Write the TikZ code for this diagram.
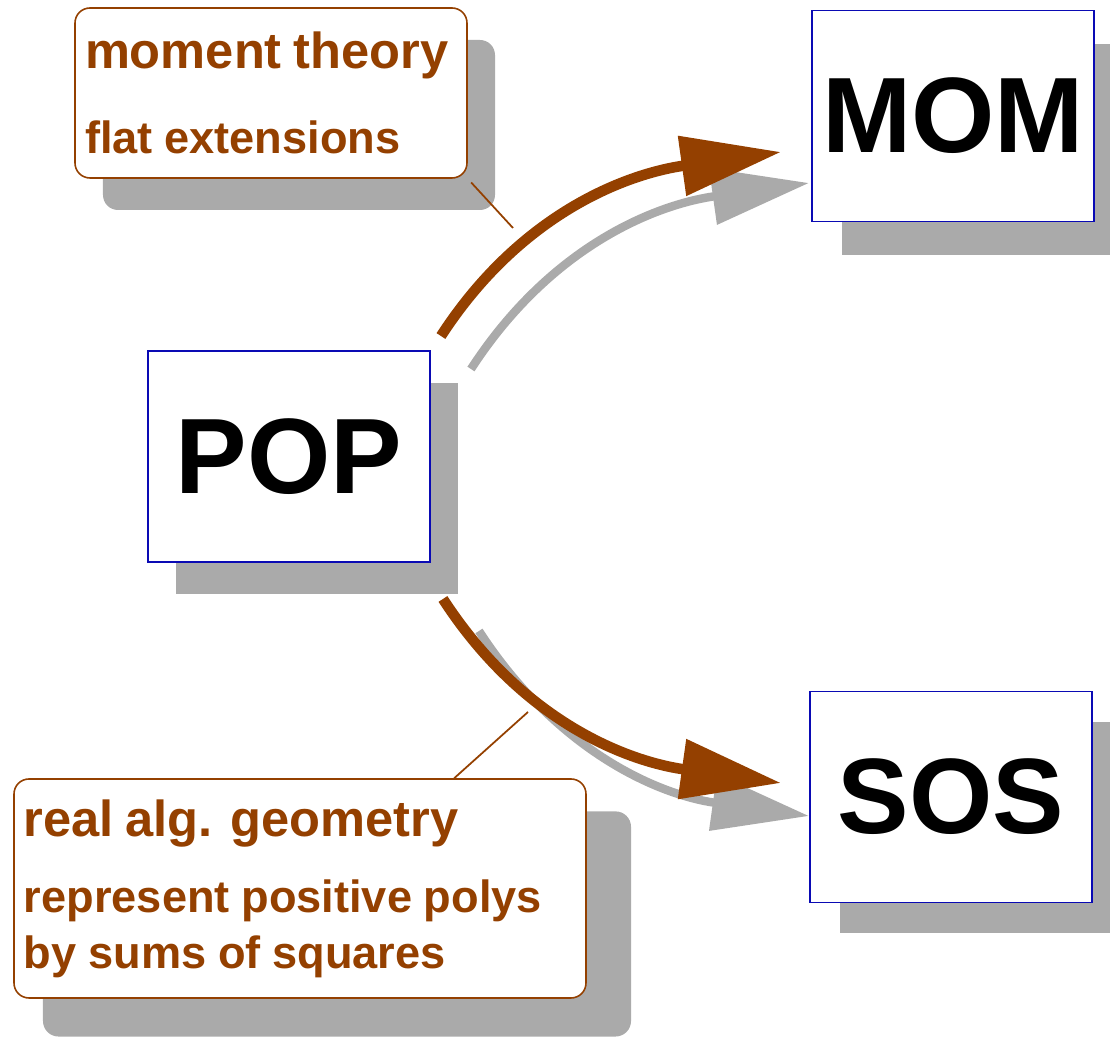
\documentclass[tikz,border=0pt]{standalone}
\usepackage{fontspec}
\setmainfont{Liberation Sans}
\usetikzlibrary{arrows.meta,shadows,calc}

\definecolor{popbrown}{RGB}{148,64,0}
\definecolor{popgray}{RGB}{170,170,170}
\definecolor{popblue}{RGB}{10,10,180}

\newcommand{\bigtxt}{\fontsize{14.4}{15.9}\selectfont}
\newcommand{\smalltxt}{\fontsize{12.85}{15.9}\selectfont}

\tikzset{
  shadowed/.style={drop shadow={shadow xshift=0.28cm, shadow yshift=-0.32cm, fill=popgray, opacity=1, #1}},
  shadowed/.default={},
  bigbox/.style={draw=popblue, line width=0.55pt, fill=white, minimum width=2.82cm, minimum height=2.11cm, inner sep=0pt, font=\fontsize{30.5}{32}\selectfont\bfseries},
  callout/.style={draw=popbrown, fill=white, rounded corners=0.15cm, line width=0.45pt, inner xsep=0.1cm, inner ysep=0pt, align=left, text=popbrown, font=\bfseries},
  brownarrow/.style={draw=popbrown, line width=3pt, -{Triangle[length=1cm,width=0.58cm]}},
  grayarrow/.style={draw=popgray, line width=2.4pt, -{Triangle[length=0.97cm,width=0.55cm]}},
  pin/.style={draw=popbrown, line width=0.5pt},
}

\begin{document}
\begin{tikzpicture}

  \useasboundingbox (0,0) rectangle (11.10,-10.37);

  % the three problems
  \node[bigbox, shadowed] (pop) at (2.89,-4.565) {POP};
  \node[bigbox, shadowed={shadow xshift=0.30cm, shadow yshift=-0.34cm}] (mom) at (9.53,-1.16) {MOM};
  \node[bigbox, shadowed={shadow xshift=0.30cm, shadow yshift=-0.31cm}] (sos) at (9.51,-7.97) {SOS};

  % callouts
  \node[callout, shadowed, minimum width=3.92cm, minimum height=1.70cm, text width=3.72cm] (mt) at (2.71,-0.93)
    {\bigtxt moment theory\par\vspace{8.3pt}\smalltxt flat extensions\par};
  \node[callout, shadowed={shadow scale=1.028, shadow xshift=0.36cm, shadow yshift=-0.345cm},
        minimum width=5.72cm, minimum height=2.19cm, text width=5.52cm] (rg) at (3.00,-8.885)
    {\bigtxt real alg. geometry\par\vspace{5.7pt}\smalltxt represent positive polys\\by sums of squares\par};

  \coordinate (mtpin) at (5.13,-2.28);
  \coordinate (rgpin) at (5.28,-7.12);

%  \draw (mtpin) node {mtpin};
%  \draw (rgpin) node {rgpin};

  \draw[pin, shorten >=0.05cm] (mtpin) -- (mt.south east);
  \draw[pin] (rgpin) -- ($(rg.north west)+(4.41,0)$);

  % relaxations
  \draw[grayarrow] ([shift={(0.40,-0.19)}]pop.north east) to[out=57,in=188] ([shift={(-0.02,-0.67)}]mom.west);
  \draw[brownarrow] ([shift={(0.10,0.14)}]pop.north east) to[out=57,in=188] ([shift={(-0.30,-0.36)}]mom.west);

  \draw[grayarrow] ([shift={(0.48,-0.68)}]pop.south east) to[out=-57,in=172] ([shift={(0,-0.19)}]sos.west);
  \draw[brownarrow] ([shift={(0.12,-0.36)}]pop.south east) to[out=-57,in=172] ([shift={(-0.28,0.14)}]sos.west);

\end{tikzpicture}
\end{document}
